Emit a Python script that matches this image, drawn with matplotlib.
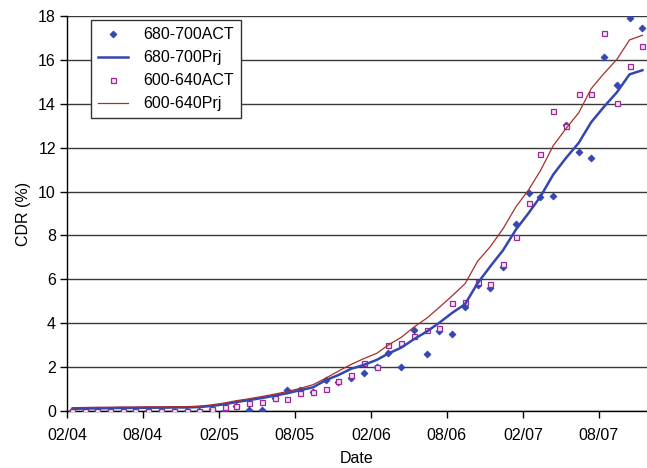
import numpy as np
import pandas as pd
import matplotlib
matplotlib.use("Agg")
import matplotlib.pyplot as plt

plt.rcParams['font.family'] = ['Liberation Sans', 'DejaVu Sans']

# Monthly observations, Feb 2004 - Nov 2007
months = pd.date_range('2004-02-01', periods=46, freq='MS') + pd.Timedelta(days=13)

act_680_700 = [0.0, 0.0, 0.0, 0.0, 0.0, 0.0, 0.0, 0.0, 0.0, 0.0,
               0.0, 0.09, 0.0, 0.22, 0.05, 0.05, 0.58, 0.94, 0.96, 0.87,
               1.42, 1.33, 1.49, 1.72, 2.02, 2.63, 2.0, 3.68, 2.62, 3.64,
               3.53, 4.74, 5.73, 5.62, 6.58, 8.54, 9.94, 9.77, 9.8, 13.04,
               11.81, 11.55, 16.12, 14.85, 17.91, 17.44]

prj_680_700 = [0.10, 0.11, 0.12, 0.13, 0.14, 0.14, 0.15, 0.15, 0.16, 0.16,
               0.18, 0.23, 0.31, 0.41, 0.50, 0.59, 0.70, 0.81, 0.95, 1.08,
               1.40, 1.64, 1.92, 2.10, 2.33, 2.62, 2.89, 3.27, 3.62, 4.02,
               4.47, 4.87, 5.82, 6.60, 7.32, 8.26, 9.03, 9.77, 10.78, 11.52,
               12.22, 13.16, 13.87, 14.53, 15.34, 15.53]

act_600_640 = [0.0, 0.0, 0.0, 0.0, 0.0, 0.0, 0.0, 0.0, 0.0, 0.0,
               0.0, 0.09, 0.2, 0.22, 0.35, 0.41, 0.58, 0.55, 0.84, 0.87,
               1.02, 1.38, 1.66, 2.2, 2.02, 3.03, 3.1, 3.42, 3.7, 3.8,
               4.9, 4.96, 5.89, 5.8, 6.68, 7.95, 9.48, 11.69, 13.65, 13.0,
               14.46, 14.43, 17.21, 14.03, 15.72, 16.62]

prj_600_640 = [0.15, 0.16, 0.17, 0.17, 0.18, 0.18, 0.19, 0.19, 0.20, 0.20,
               0.22, 0.28, 0.37, 0.47, 0.56, 0.66, 0.77, 0.89, 1.03, 1.20,
               1.49, 1.82, 2.12, 2.39, 2.63, 3.01, 3.36, 3.82, 4.23, 4.72,
               5.25, 5.80, 6.82, 7.50, 8.30, 9.30, 10.09, 10.95, 12.10, 12.86,
               13.59, 14.69, 15.39, 16.03, 16.91, 17.12]

tick_dates = pd.date_range('2004-02-01', periods=8, freq='6MS')
tick_labels = ['02/04', '08/04', '02/05', '08/05', '02/06', '08/06', '02/07', '08/07']
y_ticks = list(range(0, 19, 2))

blue = '#3446B0'
purple = '#9A2A9A'
darkred = '#A3302C'

fig = plt.figure(figsize=(6.47, 4.68), dpi=100)
ax = fig.add_axes([0.1036, 0.1218, 0.8964, 0.844])

ax.plot(months, act_680_700, linestyle='none', marker='D', markersize=3.5,
        color=blue, markeredgewidth=0.6, label='680-700ACT', zorder=3)
ax.plot(months, prj_680_700, color=blue, linewidth=1.8, label='680-700Prj', zorder=4)
ax.plot(months, act_600_640, linestyle='none', marker='s', markersize=3.6,
        markerfacecolor='#F4E4F4', markeredgecolor=purple, markeredgewidth=0.9,
        label='600-640ACT', zorder=3)
ax.plot(months, prj_600_640, color=darkred, linewidth=0.9, label='600-640Prj', zorder=4)

ax.set_ylim(0, 18)
ax.set_xlim(pd.Timestamp('2004-02-01'), pd.Timestamp('2007-11-25'))
ax.set_yticks(y_ticks)
ax.set_xticks(tick_dates)
ax.set_xticklabels(tick_labels)

ax.yaxis.grid(True, color='#3a3a3a', linewidth=1.0)
ax.set_axisbelow(True)
for s in ('top', 'right'):
    ax.spines[s].set_visible(False)
for s in ('left', 'bottom'):
    ax.spines[s].set_color('black')
    ax.spines[s].set_linewidth(1.0)
ax.tick_params(axis='both', direction='out', length=5, width=1.0,
               labelsize=11.5, colors='black')
ax.tick_params(axis='x', pad=7)
ax.tick_params(axis='y', pad=3)

ax.set_xlabel('Date', fontsize=11.5, labelpad=6)
ax.set_ylabel('CDR (%)', fontsize=11.5, labelpad=5)

leg = ax.legend(loc='upper left', bbox_to_anchor=(0.041, 0.99), borderaxespad=0,
                fontsize=11.5, frameon=True, fancybox=False, framealpha=1,
                edgecolor='#333333', handlelength=1.9, borderpad=0.45,
                labelspacing=0.5, handletextpad=0.95)
leg.get_frame().set_linewidth(1.0)

fig.savefig('out.png', dpi=100)
